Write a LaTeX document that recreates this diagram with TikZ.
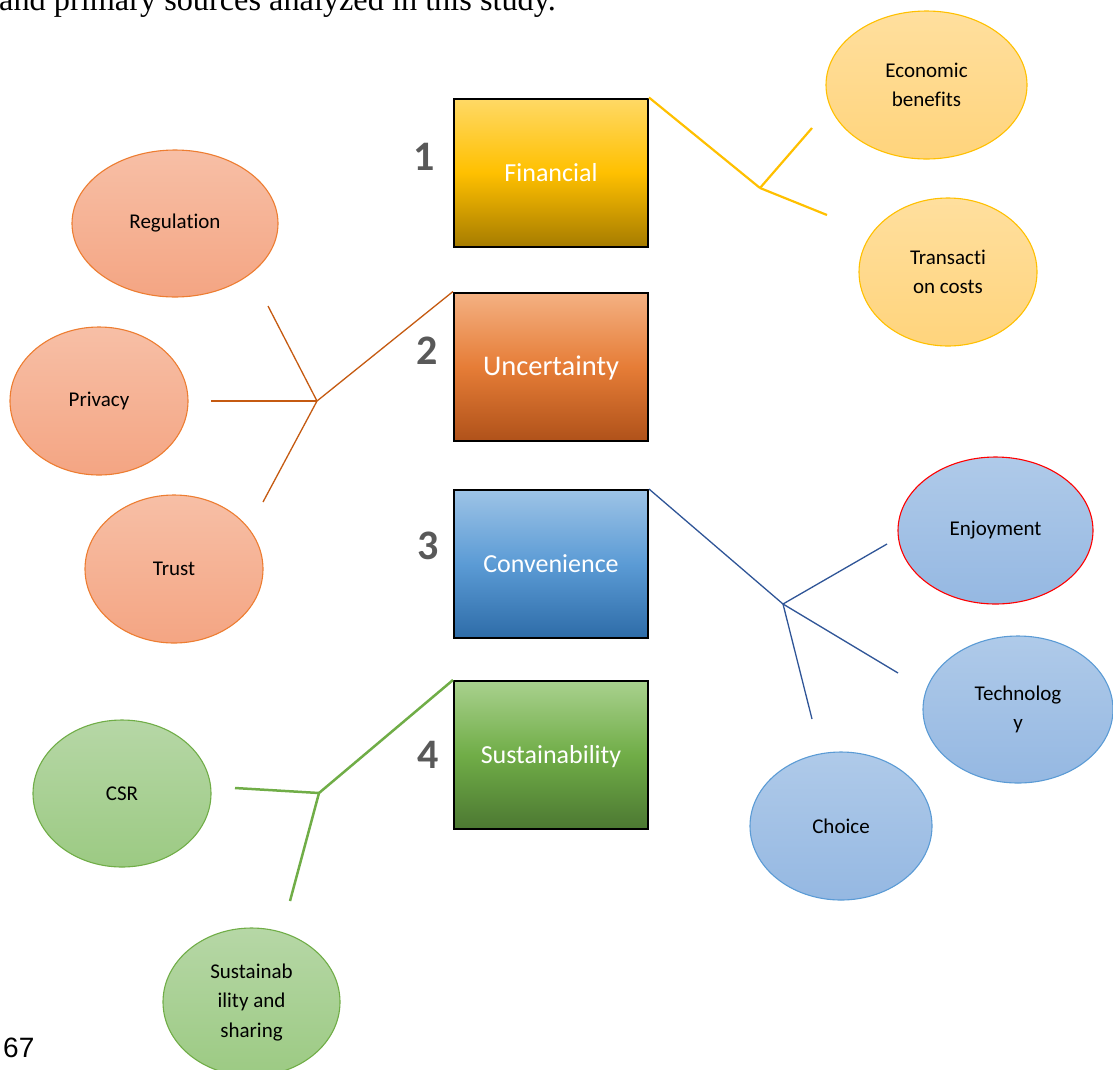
\documentclass[tikz,border=0pt]{standalone}
\usepackage{fontspec}
\setmainfont{Carlito}[Ligatures=NoCommon]
\newfontfamily\serifx{Liberation Serif}
\newfontfamily\arialx{Liberation Sans}
\usetikzlibrary{shapes.geometric,shadings}
\definecolor{ybTop}{HTML}{FFD966}\definecolor{ybMid}{HTML}{FFC000}\definecolor{ybBot}{HTML}{A67C00}
\definecolor{yeTop}{HTML}{FFDF9E}\definecolor{yeBot}{HTML}{FFD47C}\definecolor{yLine}{HTML}{FFC000}
\definecolor{obTop}{HTML}{F4B183}\definecolor{obMid}{HTML}{E67D37}\definecolor{obBot}{HTML}{B0521A}
\definecolor{oeTop}{HTML}{F7BFA6}\definecolor{oeBot}{HTML}{F4A583}\definecolor{oeStroke}{HTML}{ED7D31}\definecolor{oLine}{HTML}{C55A11}
\definecolor{bbTop}{HTML}{9DC3E6}\definecolor{bbMid}{HTML}{5B9BD5}\definecolor{bbBot}{HTML}{2E6CA8}
\definecolor{beTop}{HTML}{AFCAE9}\definecolor{beBot}{HTML}{95B8E2}\definecolor{beStroke}{HTML}{5B9BD5}\definecolor{bLine}{HTML}{2F5597}
\definecolor{gbTop}{HTML}{A9D18E}\definecolor{gbMid}{HTML}{70AD47}\definecolor{gbBot}{HTML}{4C7832}
\definecolor{geTop}{HTML}{B6D7A6}\definecolor{geBot}{HTML}{9CCA83}\definecolor{geStroke}{HTML}{70AD47}\definecolor{gLine}{HTML}{70AD47}
\definecolor{numGrey}{HTML}{595959}
\begin{document}
\begin{tikzpicture}[x=1pt,y=-1pt,
  catbox/.style={rectangle, draw=black, line width=2pt, minimum width=194pt, minimum height=148pt,
    inner sep=0pt, text=white, text height=17pt, text depth=0pt, font=\fontsize{26}{30}\selectfont},
  ell/.style={ellipse, inner sep=0pt, align=center, line width=1.1pt, font=\fontsize{21}{29.5}\selectfont},
  yell/.style={ell, draw=yLine, top color=yeTop, bottom color=yeBot},
  oell/.style={ell, draw=oeStroke, top color=oeTop, bottom color=oeBot},
  bell/.style={ell, draw=beStroke, top color=beTop, bottom color=beBot},
  gell/.style={ell, draw=geStroke, top color=geTop, bottom color=geBot},
  numlab/.style={text=numGrey, inner sep=0pt, font=\fontsize{42}{44}\selectfont\bfseries},
  yconn/.style={draw=yLine, line width=2.2pt},
  oconn/.style={draw=oLine, line width=1.3pt},
  bconn/.style={draw=bLine, line width=1.3pt},
  gconn/.style={draw=gLine, line width=2.5pt}
]
\useasboundingbox (0,0) rectangle (1113,1069);

% caption fragment and page number
\node[anchor=base west, inner sep=0pt, font=\serifx\fontsize{32.3}{34}\selectfont] (cap) at (-1,10) {and primary sources analyzed in this study.};
\node[anchor=base west, inner sep=0pt, font=\arialx\fontsize{28}{30}\selectfont] (pg) at (3,1057) {67};

% category boxes
\node[catbox, top color=ybTop, bottom color=ybBot, middle color=ybMid] (fin) at (551,172.5) {Financial};
\node[catbox, top color=obTop, bottom color=obBot, middle color=obMid, font=\fontsize{28.5}{30}\selectfont, text height=18.5pt] (unc) at (551,366.5) {Uncertainty};
\node[catbox, top color=bbTop, bottom color=bbBot, middle color=bbMid] (con) at (551,564) {Convenience};
\node[catbox, top color=gbTop, bottom color=gbBot, middle color=gbMid] (sus) at (551,755) {Sustainability};

% numbers
\node[numlab] (n1) at (424,157) {1};
\node[numlab] (n2) at (427,351) {2};
\node[numlab] (n3) at (428,546) {3};
\node[numlab] (n4) at (428,755) {4};

% yellow group
\node[yell, minimum width=201pt, minimum height=148pt] (eco) at (926.5,85) {Economic\\benefits};
\node[yell, minimum width=178pt, minimum height=148pt] (tra) at (948,272) {Transacti\\on costs};
\coordinate (jy) at (760,188);
\coordinate (ye1) at (812,128);
\coordinate (ye2) at (827,215);
\draw[yconn] (fin.north east) -- (jy);
\draw[yconn] (jy) -- (ye1);
\draw[yconn] (jy) -- (ye2);

% orange group
\node[oell, minimum width=206pt, minimum height=147pt] (reg) at (175,223.5) {Regulation};
\node[oell, minimum width=178pt, minimum height=148pt] (pri) at (99,401) {Privacy};
\node[oell, minimum width=178pt, minimum height=148pt] (tru) at (174,569) {Trust};
\coordinate (jo) at (317,401);
\coordinate (oe1) at (268,306);
\coordinate (oe2) at (211,401);
\coordinate (oe3) at (263,502);
\draw[oconn] (unc.north west) -- (jo);
\draw[oconn] (jo) -- (oe1);
\draw[oconn] (jo) -- (oe2);
\draw[oconn] (jo) -- (oe3);

% blue group
\node[bell, draw=red, minimum width=195pt, minimum height=147pt] (enj) at (995.5,530.5) {Enjoyment};
\node[bell, minimum width=190pt, minimum height=147pt] (tec) at (1018,709.5) {Technolog\\y};
\node[bell, minimum width=182pt, minimum height=148pt] (cho) at (841,826) {Choice};
\coordinate (jb) at (783,604);
\coordinate (be1) at (887,544);
\coordinate (be2) at (898,673);
\coordinate (be3) at (812,719);
\draw[bconn] (con.north east) -- (jb);
\draw[bconn] (jb) -- (be1);
\draw[bconn] (jb) -- (be2);
\draw[bconn] (jb) -- (be3);

% green group
\node[gell, minimum width=178pt, minimum height=147pt] (csr) at (122,793.5) {CSR};
\node[gell, minimum width=177pt, minimum height=148pt] (ssh) at (251.5,1002) {Sustainab\\ility and\\sharing};
\coordinate (jg) at (319,793);
\coordinate (ge1) at (235,788);
\coordinate (ge2) at (290,901);
\draw[gconn] (sus.north west) -- (jg);
\draw[gconn] (jg) -- (ge1);
\draw[gconn] (jg) -- (ge2);
\end{tikzpicture}
\end{document}
